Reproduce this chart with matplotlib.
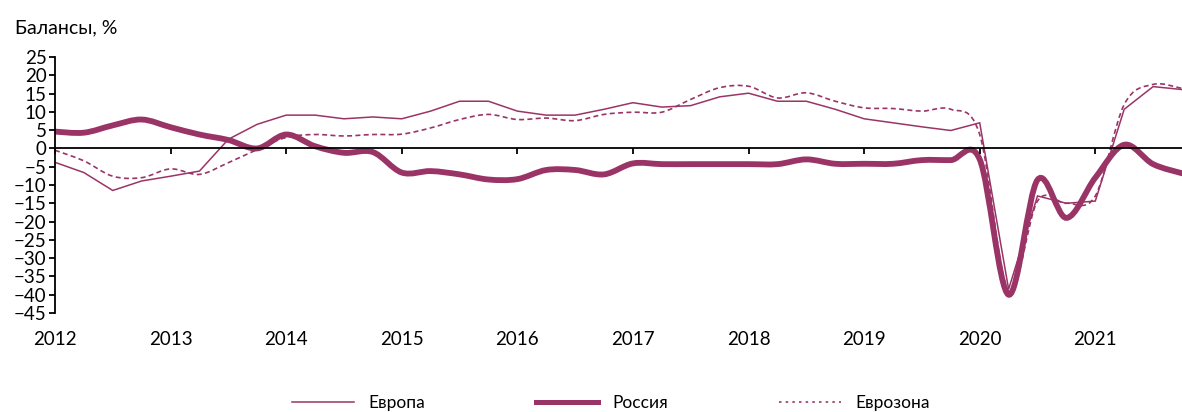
import numpy as np
import matplotlib
matplotlib.use("Agg")
import matplotlib.pyplot as plt
from matplotlib.path import Path
from matplotlib.patches import PathPatch
from matplotlib.lines import Line2D

plt.rcParams['font.family'] = ['Lato', 'DejaVu Sans']

# quarterly observations, 2012 Q1 .. 2021 Q4
quarters = np.arange(40) / 4 + 2012

europe = [-3.8, -6.6, -11.5, -8.9, -7.6, -6.2, 2.5, 6.6,
          9.1, 9.1, 8.1, 8.6, 8.1, 10.2, 12.9, 12.9,
          10.2, 9.1, 9.1, 10.7, 12.5, 11.3, 11.7, 14.1,
          15.1, 12.9, 12.9, 10.7, 8.1, 7.0, 5.9, 4.9,
          7.0, -38.5, -13.0, -15.0, -14.4, 10.7, 16.9, 16.1]

russia = [4.6, 4.3, 6.3, 7.9, 5.8, 3.8, 2.3, 0.0,
          3.8, 0.6, -1.2, -1.0, -6.6, -6.2, -7.1, -8.5,
          -8.4, -5.9, -5.9, -7.1, -4.1, -4.3, -4.3, -4.3,
          -4.3, -4.3, -3.0, -4.2, -4.2, -4.2, -3.2, -3.2,
          -3.0, -40.0, -8.6, -19.0, -8.0, 1.0, -4.3, -6.8]

eurozone = [-0.5, -3.4, -7.6, -8.0, -5.6, -7.1, -3.9, -0.3,
            3.0, 3.8, 3.4, 3.8, 3.9, 5.6, 7.9, 9.3,
            7.9, 8.3, 7.6, 9.3, 9.9, 9.9, 13.4, 16.6,
            17.0, 13.8, 15.2, 12.9, 11.1, 10.9, 10.2, 10.7,
            3.8, -39.0, -14.4, -15.0, -13.0, 12.0, 17.5, 16.4]

year_ticks = list(range(2012, 2022))
color = '#9b3466'


def smooth_path(x, y):
    # Excel-style smoothed line: cubic Bezier segments through every point
    pts = np.column_stack([x, y])
    n = len(pts)
    verts = [pts[0]]
    codes = [Path.MOVETO]
    for i in range(n - 1):
        p0 = pts[max(i - 1, 0)]
        p1 = pts[i]
        p2 = pts[i + 1]
        p3 = pts[min(i + 2, n - 1)]
        c1 = p1 + (p2 - p0) / 6
        c2 = p2 - (p3 - p1) / 6
        verts += [c1, c2, p2]
        codes += [Path.CURVE4] * 3
    return Path(verts, codes)


fig = plt.figure(figsize=(11.82, 4.12), dpi=100)
ax = fig.add_axes([0.0465, 0.2403, 0.9535, 0.6214])

ax.plot(quarters, europe, color=color, lw=1.1, solid_joinstyle='miter')
ax.add_patch(PathPatch(smooth_path(quarters, eurozone), fill=False,
                       edgecolor=color, lw=1.2, linestyle=(0, (3, 2))))
ax.add_patch(PathPatch(smooth_path(quarters, russia), fill=False,
                       edgecolor=color, lw=4.2, capstyle='round'))

ax.set_xlim(2012, 2021.75)
ax.set_ylim(-45, 25)
ax.set_yticks(range(-45, 26, 5))
ax.set_xticks(year_ticks)

for s in ['top', 'right']:
    ax.spines[s].set_visible(False)
ax.spines['bottom'].set_position(('data', 0))
ax.spines['bottom'].set_linewidth(1.3)
ax.spines['left'].set_linewidth(1.3)
ax.tick_params(axis='x', direction='out', length=4, width=1.3, labelbottom=False)
ax.tick_params(axis='y', direction='out', length=4, width=1.3, labelsize=13.5, pad=2)

sec = ax.secondary_xaxis(0)
sec.set_xticks(year_ticks)
sec.spines['bottom'].set_visible(False)
sec.tick_params(length=0, labelsize=13.5, pad=13)

fig.text(0.013, 0.92, 'Балансы, %', fontsize=14)

handles = [Line2D([], [], color=color, lw=1.1),
           Line2D([], [], color=color, lw=3.6),
           Line2D([], [], color=color, lw=1.2, linestyle=(0, (1.5, 2.5)))]
fig.legend(handles, ['Европа', 'Россия', 'Еврозона'], loc='center',
           bbox_to_anchor=(0.517, 0.022), ncol=3, frameon=False, fontsize=12.5,
           handlelength=3.55, columnspacing=6.4, handletextpad=0.85)

fig.savefig('out.png', dpi=100)
